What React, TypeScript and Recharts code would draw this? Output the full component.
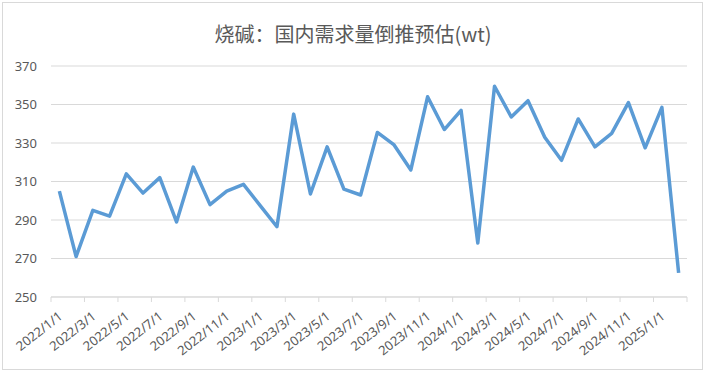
import React from 'react';
import { LineChart, Line, XAxis, YAxis, CartesianGrid } from 'recharts';

const months = [
  '2022/1/1', '2022/2/1', '2022/3/1', '2022/4/1', '2022/5/1', '2022/6/1',
  '2022/7/1', '2022/8/1', '2022/9/1', '2022/10/1', '2022/11/1', '2022/12/1',
  '2023/1/1', '2023/2/1', '2023/3/1', '2023/4/1', '2023/5/1', '2023/6/1',
  '2023/7/1', '2023/8/1', '2023/9/1', '2023/10/1', '2023/11/1', '2023/12/1',
  '2024/1/1', '2024/2/1', '2024/3/1', '2024/4/1', '2024/5/1', '2024/6/1',
  '2024/7/1', '2024/8/1', '2024/9/1', '2024/10/1', '2024/11/1', '2024/12/1',
  '2025/1/1', '2025/2/1',
];

const demand = [
  305, 271, 295, 292, 314, 304, 312, 289, 317.5, 298, 305, 308.5,
  297.5, 286.5, 345, 303.5, 328, 306, 303, 335.5, 329, 316, 354, 337,
  347, 278, 359.5, 343.5, 352, 333, 321, 342.5, 328, 335, 351, 327.5,
  348.5, 262.5,
];

const yTicks = [250, 270, 290, 310, 330, 350, 370];

const data = months.map((m, i) => ({ month: m, value: demand[i] }));

const W = 706;
const H = 374;
const LEFT = 51;
const RIGHT = 19;
const BAND = (W - LEFT - RIGHT) / months.length;
const GRAY = '#595959';
const GRID = '#d9d9d9';

const MonthTick = (props: any) => {
  const { x, y, payload } = props;
  const tx = x + 4;
  const ty = y + 13;
  const isLast = payload.index === months.length - 2;
  return (
    <g>
      <line x1={x - BAND / 2} x2={x - BAND / 2} y1={y - 8} y2={y - 3} stroke={GRID} />
      {isLast && (
        <line x1={x + BAND * 1.5} x2={x + BAND * 1.5} y1={y - 8} y2={y - 3} stroke={GRID} />
      )}
      <text
        x={tx}
        y={ty}
        textAnchor="end"
        fill={GRAY}
        fontSize={13}
        fontFamily="'Noto Sans', sans-serif"
        transform={`rotate(-38, ${tx}, ${ty})`}
      >
        {payload.value}
      </text>
    </g>
  );
};

export default function App() {
  return (
    <div style={{ position: 'relative', width: W, height: H, background: '#fff' }}>
      <style>{`body{margin:0}`}</style>
      <div
        style={{
          position: 'absolute',
          left: 2,
          top: 2,
          width: 701,
          height: 368,
          border: `1px solid ${GRID}`,
          boxSizing: 'border-box',
        }}
      />
      <div
        style={{
          position: 'absolute',
          top: 24,
          left: 0,
          width: W,
          textAlign: 'center',
          fontSize: 20,
          lineHeight: '20px',
          color: GRAY,
          fontFamily: "'Noto Sans CJK SC', sans-serif",
        }}
      >
        烧碱：国内需求量倒推预估(wt)
      </div>
      <LineChart
        width={W}
        height={H}
        data={data}
        margin={{ top: 66, right: RIGHT, left: 0, bottom: 0 }}
      >
        <CartesianGrid vertical={false} stroke={GRID} />
        <XAxis
          dataKey="month"
          interval={1}
          height={77}
          padding={{ left: BAND / 2, right: BAND / 2 }}
          tickLine={false}
          axisLine={{ stroke: GRID }}
          tick={<MonthTick />}
        />
        <YAxis
          width={LEFT}
          domain={[250, 370]}
          ticks={yTicks}
          axisLine={false}
          tickLine={false}
          tickMargin={8}
          tick={{ fill: GRAY, fontSize: 13, fontFamily: "'Noto Sans', sans-serif" }}
        />
        <Line
          type="linear"
          dataKey="value"
          stroke="#5b9bd5"
          strokeWidth={3.5}
          strokeLinejoin="round"
          dot={false}
          isAnimationActive={false}
        />
      </LineChart>
    </div>
  );
}
